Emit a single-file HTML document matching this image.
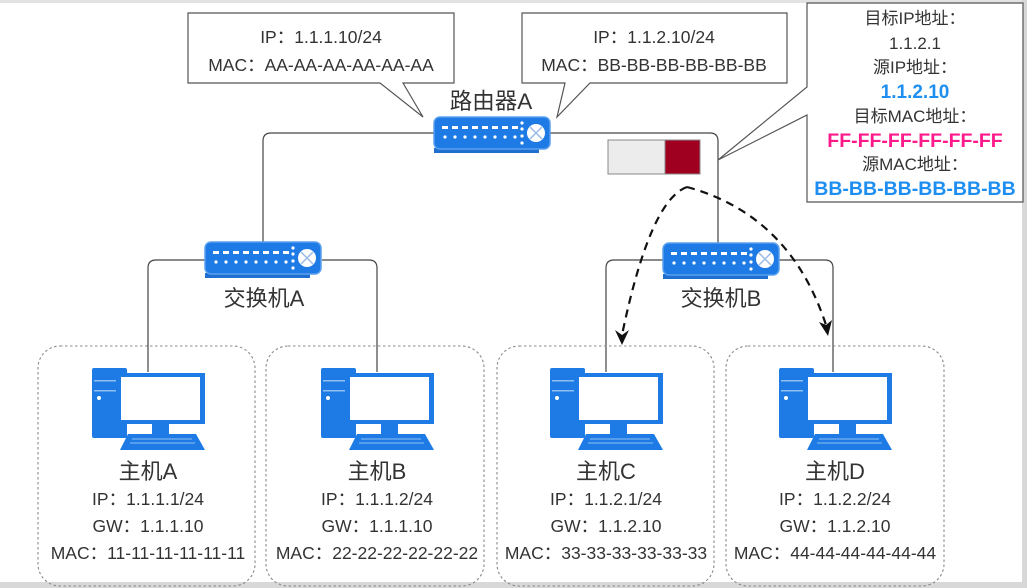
<!DOCTYPE html>
<html><head><meta charset="utf-8"><style>
html,body{margin:0;padding:0;background:#fff;}
svg{display:block;}
text{font-family:"Liberation Sans","Noto Sans CJK SC",sans-serif;fill:#333;}
</style></head><body>
<svg width="1027" height="588" viewBox="0 0 1027 588" xmlns="http://www.w3.org/2000/svg">
<defs>
<g id="sw">
  <rect x="0" y="31" width="105" height="5" fill="#1e6fd0"/>
  <rect x="0" y="0" width="116" height="32" rx="6" fill="#1e7be6" stroke="#5aa0ee" stroke-width="1.5"/>
  <g fill="#fff">
    <rect x="8" y="9" width="6" height="3"/><rect x="18" y="9" width="6" height="3"/><rect x="28" y="9" width="6" height="3"/><rect x="38" y="9" width="6" height="3"/><rect x="48" y="9" width="6" height="3"/><rect x="58" y="9" width="6" height="3"/><rect x="68" y="9" width="6" height="3"/><rect x="78" y="9" width="6" height="3"/>
    <circle cx="11" cy="20" r="1.6"/><circle cx="21" cy="20" r="1.6"/><circle cx="31" cy="20" r="1.6"/><circle cx="41" cy="20" r="1.6"/><circle cx="51" cy="20" r="1.6"/><circle cx="61" cy="20" r="1.6"/><circle cx="71" cy="20" r="1.6"/><circle cx="81" cy="20" r="1.6"/>
    <circle cx="88" cy="6" r="1.6"/><circle cx="88" cy="12" r="1.6"/><circle cx="88" cy="19" r="1.6"/><circle cx="88" cy="26" r="1.6"/>
    <circle cx="102" cy="16" r="9"/>
  </g>
  <path d="M96 10 L108 22 M108 10 L96 22" stroke="#9bbce6" stroke-width="1.5"/>
</g>
<g id="pc">
  <rect x="0" y="0" width="35" height="70" rx="2" fill="#1e7be6"/>
  <rect x="2" y="12" width="31" height="1.5" fill="#8fbff0"/>
  <rect x="2" y="22" width="31" height="1.5" fill="#8fbff0"/>
  <circle cx="7" cy="30" r="2" fill="#fff"/>
  <rect x="24" y="5" width="89" height="51" fill="#1e7be6"/>
  <rect x="29" y="9" width="79" height="43" fill="#fff"/>
  <rect x="60" y="56" width="17" height="10" fill="#1e7be6"/>
  <path d="M36 66 L104 66 L113 82 L28 82 Z" fill="#1e7be6"/>
  <path d="M40 71 L100 71 M38 75 L103 75" stroke="#8fbff0" stroke-width="1"/>
</g>
</defs>
<rect x="0" y="0" width="1027" height="588" fill="#fff"/>
<rect x="0" y="0" width="1027" height="3" fill="#e2e2e2"/>
<rect x="1022" y="0" width="5" height="588" fill="#d8d8d8"/>
<rect x="0" y="582" width="1027" height="6" fill="#d8d8d8"/>

<g fill="none" stroke="#444" stroke-width="1.2">
  <path d="M435 133 L271 133 Q263 133 263 141 L263 243"/>
  <path d="M549 133 L710 133 Q718 133 718 141 L718 243"/>
  <path d="M205 260 L156 260 Q148 260 148 268 L148 372"/>
  <path d="M322 260 L369 260 Q377 260 377 268 L377 372"/>
  <path d="M663 260 L614 260 Q606 260 606 268 L606 372"/>
  <path d="M778 260 L825 260 Q833 260 833 268 L833 372"/>
</g>

<path d="M188 13 L454 13 L454 83 L403 83 L423 117 L380 83 L188 83 Z" fill="#fff" stroke="#555" stroke-width="1.2"/>
<text x="321" y="43" font-size="17.5" text-anchor="middle">IP：1.1.1.10/24</text>
<text x="321" y="71" font-size="17.5" text-anchor="middle">MAC：AA-AA-AA-AA-AA-AA</text>
<path d="M522 13 L787 13 L787 83 L590 83 L557 117 L565 83 L522 83 Z" fill="#fff" stroke="#555" stroke-width="1.2"/>
<text x="654" y="43" font-size="17.5" text-anchor="middle">IP：1.1.2.10/24</text>
<text x="654" y="71" font-size="17.5" text-anchor="middle">MAC：BB-BB-BB-BB-BB-BB</text>

<path d="M807 3 L1023 3 L1023 202 L807 202 L807 115 L718 160 L807 87 Z" fill="#fff" stroke="#555" stroke-width="1.2"/>
<g font-size="17" text-anchor="middle">
<text x="915" y="24">目标IP地址：</text>
<text x="915" y="49">1.1.2.1</text>
<text x="915" y="73">源IP地址：</text>
<text x="915" y="98" style="fill:#1e8ef0;font-weight:bold;font-size:19px">1.1.2.10</text>
<text x="915" y="122">目标MAC地址：</text>
<text x="915" y="147" style="fill:#ff1a8c;font-weight:bold;font-size:19.5px">FF-FF-FF-FF-FF-FF</text>
<text x="915" y="170">源MAC地址：</text>
<text x="915" y="195" style="fill:#1e8ef0;font-weight:bold;font-size:19.5px">BB-BB-BB-BB-BB-BB</text>
</g>

<rect x="608" y="140" width="57" height="34" fill="#ececec" stroke="#888" stroke-width="1"/>
<rect x="665" y="140" width="35" height="34" fill="#a00020" stroke="#888" stroke-width="1"/>

<use href="#sw" x="434" y="117"/>
<text x="491" y="109" font-size="22.5" text-anchor="middle">路由器A</text>
<use href="#sw" x="205" y="242"/>
<text x="264" y="306" font-size="22" text-anchor="middle">交换机A</text>
<use href="#sw" x="663" y="243"/>
<text x="721" y="306" font-size="22" text-anchor="middle">交换机B</text>

<g fill="none" stroke="#111" stroke-width="2.2" stroke-dasharray="8,6">
  <path d="M687 187 Q650 200 622 335"/>
  <path d="M687 187 Q790 215 826 325"/>
</g>
<path d="M615 330 L622 345 L629 330 L622 335 Z" fill="#111"/>
<path d="M819 322 L828 336 L832 320 L826 325 Z" fill="#111"/>

<g fill="none" stroke="#888" stroke-width="1.1" stroke-dasharray="2.5,2.5">
  <rect x="38" y="346" width="217" height="240" rx="22"/>
  <rect x="266" y="346" width="218" height="240" rx="22"/>
  <rect x="497" y="346" width="217" height="240" rx="22"/>
  <rect x="726" y="346" width="218" height="240" rx="22"/>
</g>
<use href="#pc" x="92" y="368"/>
<use href="#pc" x="321" y="368"/>
<use href="#pc" x="550" y="368"/>
<use href="#pc" x="779" y="368"/>

<g text-anchor="middle">
<text x="148" y="479" font-size="22">主机A</text>
<text x="148" y="505" font-size="17.5">IP：1.1.1.1/24</text>
<text x="148" y="532" font-size="17.5">GW：1.1.1.10</text>
<text x="148" y="559" font-size="17.5">MAC：11-11-11-11-11-11</text>
<text x="377" y="479" font-size="22">主机B</text>
<text x="377" y="505" font-size="17.5">IP：1.1.1.2/24</text>
<text x="377" y="532" font-size="17.5">GW：1.1.1.10</text>
<text x="377" y="559" font-size="17.5">MAC：22-22-22-22-22-22</text>
<text x="606" y="479" font-size="22">主机C</text>
<text x="606" y="505" font-size="17.5">IP：1.1.2.1/24</text>
<text x="606" y="532" font-size="17.5">GW：1.1.2.10</text>
<text x="606" y="559" font-size="17.5">MAC：33-33-33-33-33-33</text>
<text x="835" y="479" font-size="22">主机D</text>
<text x="835" y="505" font-size="17.5">IP：1.1.2.2/24</text>
<text x="835" y="532" font-size="17.5">GW：1.1.2.10</text>
<text x="835" y="559" font-size="17.5">MAC：44-44-44-44-44-44</text>
</g>
</svg>
</body></html>
